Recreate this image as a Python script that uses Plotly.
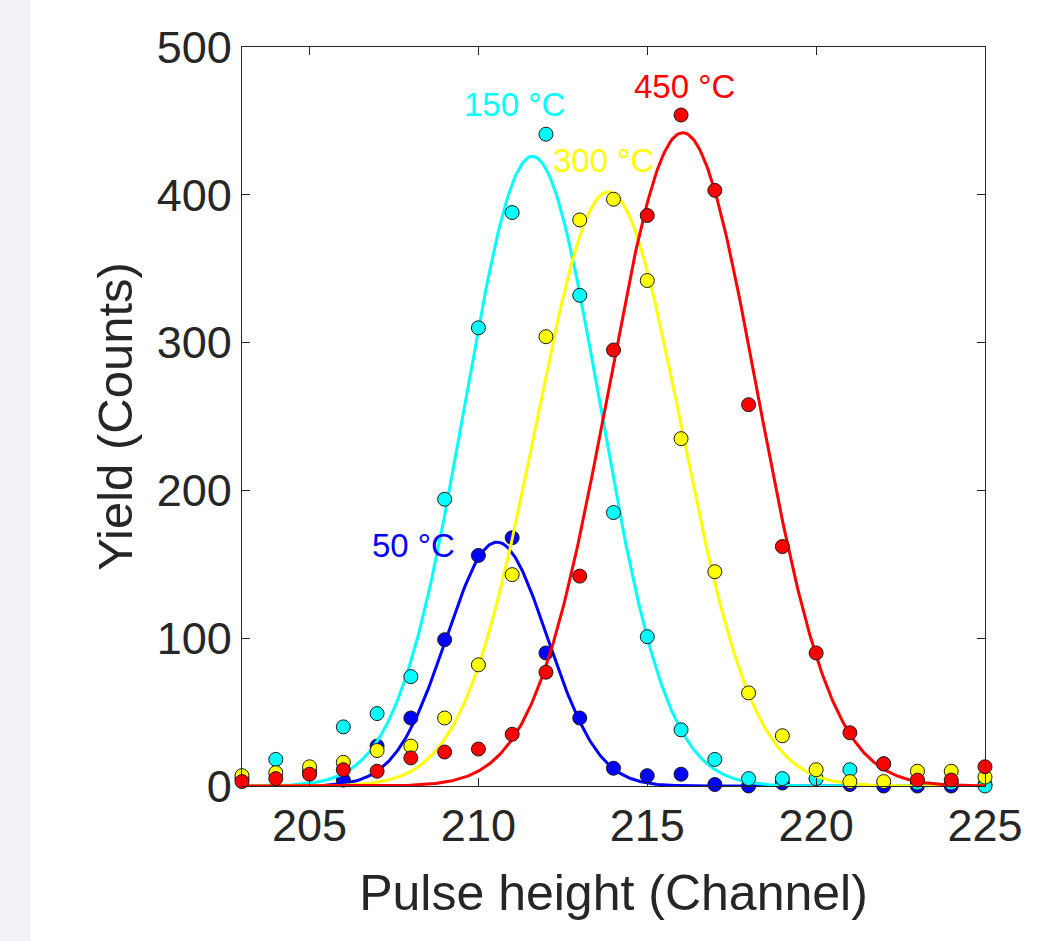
import numpy as np
import plotly.graph_objects as go

# ---- data ----
channels = list(range(203, 226))

yield_50C = [None, None, None, 4, 27, 46, 99, 156, 168, 90, 46, 12, 7, 8, 1, 0, 2, 5, 1, 0, 0, 0, 1]
yield_150C = [5, 18, 10, 40, 49, 74, 194, 310, 388, 441, 332, 185, 101, 38, 18, 5, 5, 5, 11, 15, 2, 2, 0]
yield_300C = [7, 9, 13, 16, 24, 27, 46, 82, 143, 304, 383, 397, 342, 235, 145, 63, 34, 11, 3, 3, 10, 10, 6]
yield_450C = [3, 5, 8, 11, 10, 19, 23, 25, 35, 77, 142, 295, 386, 454, 403, 258, 162, 90, 36, 15, 4, 4, 13]

# Gaussian fit parameters (amplitude, centre, sigma)
fit_50C = [165, 210.55, 1.5]
fit_150C = [426, 211.6, 2.0]
fit_300C = [402, 213.85, 2.15]
fit_450C = [442, 216.05, 2.2]

labels = ["50 °C", "150 °C", "300 °C", "450 °C"]
label_x = [208.09, 211.08, 213.71, 216.1]
label_y = [162.4, 460.8, 422.9, 473.6]

colors = ["#0000ff", "#00ffff", "#ffff00", "#ff0000"]
series = [yield_50C, yield_150C, yield_300C, yield_450C]
fits = [fit_50C, fit_150C, fit_300C, fit_450C]

x_range = [203, 225]
y_range = [0, 500]
x_ticks = [205, 210, 215, 220, 225]
y_ticks = [0, 100, 200, 300, 400, 500]

FONT = "Liberation Sans, Arial, sans-serif"
INK = "#262626"

fig = go.Figure()
xf = np.linspace(x_range[0], x_range[1], 500)
for col, ys, (a, mu, sig) in zip(colors, series, fits):
    fig.add_trace(go.Scatter(x=xf, y=a * np.exp(-((xf - mu) ** 2) / (2 * sig ** 2)),
                             mode="lines", line=dict(color=col, width=3),
                             hoverinfo="skip", showlegend=False, cliponaxis=True))
    fig.add_trace(go.Scatter(x=channels, y=ys, mode="markers",
                             marker=dict(color=col, size=14,
                                         line=dict(color="#1a1a1a", width=1)),
                             showlegend=False, cliponaxis=False))

for txt, lx, ly, col in zip(labels, label_x, label_y, colors):
    fig.add_annotation(x=lx, y=ly, text=txt, showarrow=False,
                       font=dict(family=FONT, size=33, color=col),
                       xanchor="center", yanchor="middle")

# light textured page edge on the left
fig.add_shape(type="rect", xref="paper", yref="paper",
              x0=-242 / 743, x1=(30 - 242) / 743, y0=-1, y1=2,
              fillcolor="#f3f3f7", line=dict(width=0), layer="below")

axis_common = dict(showline=True, linecolor=INK, linewidth=1.2, mirror="ticks",
                   ticks="inside", ticklen=8, tickcolor=INK, tickwidth=1.2,
                   showgrid=False, zeroline=False,
                   tickfont=dict(family=FONT, size=45, color=INK))

fig.update_layout(
    width=1038, height=941,
    margin=dict(l=242, r=53, t=47, b=155),
    paper_bgcolor="white", plot_bgcolor="white",
    xaxis=dict(range=x_range, tickvals=x_ticks, **axis_common,
               title=dict(text="Pulse height (Channel)", standoff=24,
                          font=dict(family=FONT, size=50, color=INK))),
    yaxis=dict(range=y_range, tickvals=y_ticks, **axis_common,
               title=dict(text="Yield (Counts)", standoff=8,
                          font=dict(family=FONT, size=49, color=INK))),
)

fig.write_html("out.html")
